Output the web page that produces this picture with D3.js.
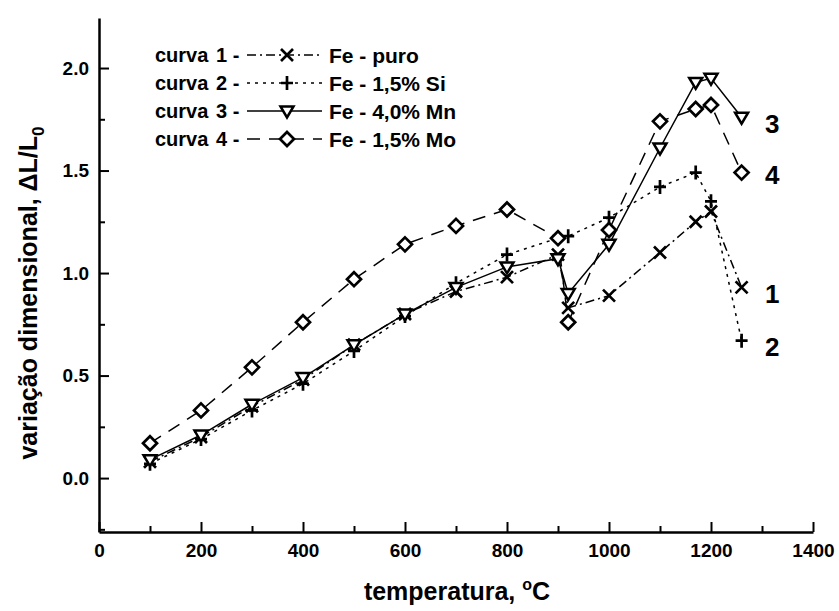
<!DOCTYPE html>
<html>
<head>
<meta charset="utf-8">
<script src="https://d3js.org/d3.v7.min.js"></script>
<style>
  body { margin: 0; background: #fff; }
  svg { display: block; }
  text { font-family: "Liberation Sans", Arial, sans-serif; font-weight: bold; fill: #000; }
  .axis path, .axis line { stroke: #000; }
  .axis path { stroke-width: 2.5px; }
  .axis line { stroke-width: 2px; }
  .curve { fill: none; stroke: #000; stroke-width: 1.5px; }
</style>
</head>
<body>
<svg id="chart" width="839" height="611"></svg>
<script>
// temperatures (°C) where each curve was measured
var temps = [100, 200, 300, 400, 500, 600, 700, 800, 900, 920, 1000, 1100, 1170, 1200, 1260];

// dL/L0 for each alloy
var fePuro = [0.08, 0.20, 0.35, 0.48, 0.65, 0.80, 0.91, 0.98, 1.09, 0.83, 0.89, 1.10, 1.25, 1.30, 0.93];
var feSi   = [0.07, 0.19, 0.33, 0.46, 0.62, 0.79, 0.95, 1.09, 1.17, 1.18, 1.27, 1.42, 1.49, 1.35, 0.67];
var feMn   = [0.09, 0.21, 0.36, 0.49, 0.65, 0.80, 0.93, 1.03, 1.07, 0.90, 1.14, 1.61, 1.93, 1.95, 1.76];
var feMo   = [0.17, 0.33, 0.54, 0.76, 0.97, 1.14, 1.23, 1.31, 1.17, 0.76, 1.21, 1.74, 1.80, 1.82, 1.49];

var curveNames = ["1", "2", "3", "4"];
var legendLabels = ["Fe - puro", "Fe - 1,5% Si", "Fe - 4,0% Mn", "Fe - 1,5% Mo"];

var xMajor = [0, 200, 400, 600, 800, 1000, 1200, 1400];
var xMinor = [100, 300, 500, 700, 900, 1100, 1300];
var yMajor = [0, 0.5, 1.0, 1.5, 2.0];
var yMinor = [-0.25, 0.25, 0.75, 1.25, 1.75];

var series = [
  {name: "1", values: fePuro, marker: "x",   dash: "9,4,2,4"},
  {name: "2", values: feSi,   marker: "+",   dash: "3,5"},
  {name: "3", values: feMn,   marker: "tri", dash: null},
  {name: "4", values: feMo,   marker: "dia", dash: "13,9"}
];
// where the curve numbers sit on the right
var endLabelY = [0.90, 0.64, 1.73, 1.48];

var svg = d3.select("#chart");

var x = d3.scaleLinear().domain([0, 1400]).range([99, 813]);
var y = d3.scaleLinear().domain([-0.263, 2.244]).range([532, 18]);

// axes (ticks point inward)
svg.append("g")
    .attr("class", "axis")
    .attr("transform", "translate(0,532)")
    .call(d3.axisBottom(x).tickValues(xMajor).tickSizeInner(-10).tickSizeOuter(0)
      .tickPadding(12).tickFormat(d3.format("d")))
    .call(g => g.selectAll("text").attr("font-size", 19).attr("dy", "0.71em"));

svg.append("g")
    .attr("class", "axis")
    .attr("transform", "translate(0,532)")
    .call(d3.axisBottom(x).tickValues(xMinor).tickSizeInner(-6).tickSizeOuter(0).tickFormat(""))
    .call(g => g.select(".domain").remove());

svg.append("g")
    .attr("class", "axis")
    .attr("transform", "translate(99,0)")
    .call(d3.axisLeft(y).tickValues(yMajor).tickSizeInner(-10).tickSizeOuter(0)
      .tickPadding(10).tickFormat(d3.format(".1f")))
    .call(g => g.selectAll("text").attr("font-size", 19));

svg.append("g")
    .attr("class", "axis")
    .attr("transform", "translate(99,0)")
    .call(d3.axisLeft(y).tickValues(yMinor).tickSizeInner(-6).tickSizeOuter(0).tickFormat(""))
    .call(g => g.select(".domain").remove());

// axis titles
var xt = svg.append("text")
    .attr("x", 457).attr("y", 600)
    .attr("text-anchor", "middle")
    .attr("font-size", 25);
xt.append("tspan").text("temperatura, ");
xt.append("tspan").attr("font-size", 16).attr("dy", -10).text("o");
xt.append("tspan").attr("dy", 10).text("C");

var yt = svg.append("text")
    .attr("transform", "translate(37,293) rotate(-90)")
    .attr("text-anchor", "middle")
    .attr("font-size", 25);
yt.append("tspan").text("variação dimensional, ΔL/L");
yt.append("tspan").attr("font-size", 17).attr("dy", 7).text("0");

// marker drawing
function drawMarker(g, type, cx, cy) {
  var s = 6;
  if (type === "x") {
    g.append("path")
      .attr("d", `M${cx - s},${cy - s}L${cx + s},${cy + s}M${cx - s},${cy + s}L${cx + s},${cy - s}`)
      .attr("stroke", "#000").attr("stroke-width", 2.7).attr("fill", "none");
  } else if (type === "+") {
    g.append("path")
      .attr("d", `M${cx - s},${cy}L${cx + s},${cy}M${cx},${cy - s - 1}L${cx},${cy + s + 1}`)
      .attr("stroke", "#000").attr("stroke-width", 2.7).attr("fill", "none");
  } else if (type === "tri") {
    g.append("path")
      .attr("d", `M${cx - 6.5},${cy - 4.5}L${cx + 6.5},${cy - 4.5}L${cx},${cy + 6.5}Z`)
      .attr("stroke", "#000").attr("stroke-width", 2.5).attr("fill", "#fff");
  } else {
    g.append("path")
      .attr("d", `M${cx},${cy - 7}L${cx + 7},${cy}L${cx},${cy + 7}L${cx - 7},${cy}Z`)
      .attr("stroke", "#000").attr("stroke-width", 2.7).attr("fill", "#fff");
  }
}

var line = d3.line()
    .x((d, i) => x(temps[i]))
    .y(d => y(d));

// lines first, then markers on top
series.forEach(s => {
  svg.append("path")
      .attr("class", "curve")
      .attr("d", line(s.values))
      .attr("stroke-dasharray", s.dash);
});
series.forEach(s => {
  var g = svg.append("g");
  s.values.forEach((v, i) => drawMarker(g, s.marker, x(temps[i]), y(v)));
});

// curve numbers at right
series.forEach((s, i) => {
  svg.append("text")
      .attr("x", 765)
      .attr("y", y(endLabelY[i]))
      .attr("dy", "0.36em")
      .attr("font-size", 26)
      .text(s.name);
});

// legend
var legRows = [55, 83, 111, 139];
series.forEach((s, i) => {
  var ly = legRows[i];
  var g = svg.append("g");
  g.append("text").attr("x", 155).attr("y", ly).attr("dy", "0.36em")
      .attr("font-size", 20).text("curva");
  g.append("text").attr("x", 216).attr("y", ly).attr("dy", "0.36em")
      .attr("font-size", 20).text(curveNames[i] + " -");
  g.append("line")
      .attr("x1", 247).attr("x2", 322).attr("y1", ly).attr("y2", ly)
      .attr("class", "curve")
      .attr("stroke-dasharray", s.dash);
  drawMarker(g, s.marker, 287, ly);
  g.append("text").attr("x", 329).attr("y", ly).attr("dy", "0.36em")
      .attr("font-size", 21).text(legendLabels[i]);
});
</script>
</body>
</html>
